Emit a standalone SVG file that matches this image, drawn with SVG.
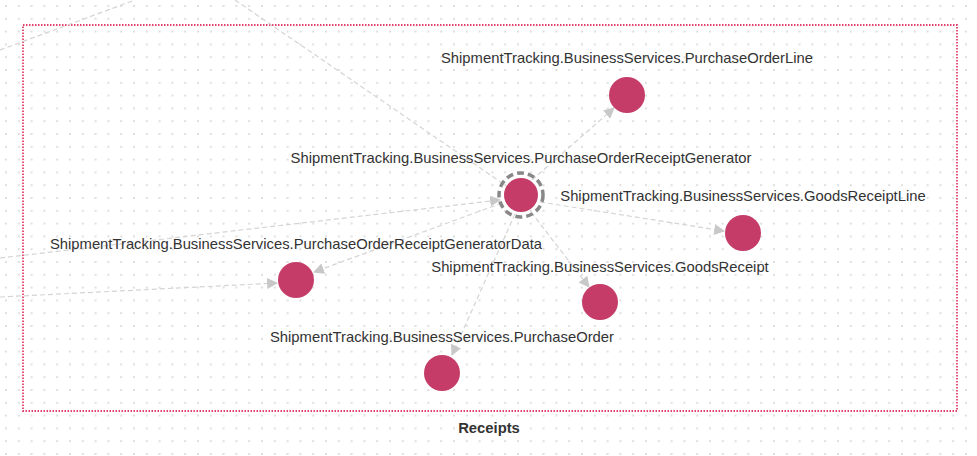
<svg xmlns="http://www.w3.org/2000/svg" width="977" height="456" viewBox="0 0 977 456">
<defs>
<pattern id="dots" width="12.8" height="12.8" patternUnits="userSpaceOnUse" x="5" y="5"><circle cx="1" cy="1" r="0.9" fill="#d0d0d0"/></pattern>
<marker id="ar" viewBox="0 0 10 10" refX="9" refY="5" markerWidth="11" markerHeight="11" markerUnits="userSpaceOnUse" orient="auto"><path d="M0,0 L10,5 L0,10 z" fill="#c8c8c8"/></marker>
</defs>
<style>
.e{stroke:#d4d4d4;stroke-width:1.2;stroke-dasharray:5 3;fill:none}
.n{fill:#c43c67}
.t{font-family:"Liberation Sans",Arial,sans-serif;font-size:14.8px;fill:#333}
</style>
<rect width="977" height="456" fill="#fff"/>
<rect width="977" height="456" fill="url(#dots)"/>
<rect x="23" y="25" width="934" height="386" fill="none" stroke="#e0406c" stroke-width="1.8" stroke-dasharray="1.5 1.5"/>
<text class="t" x="489" y="433" text-anchor="middle" font-weight="bold" font-size="13">Receipts</text>
<g id="connectors">
<path class="e" d="M0,50 L135,0"/>
<path class="e" d="M235,0 L505,185" stroke="#ececec"/>
<path class="e" d="M0,258 L500,200" marker-end="url(#ar)"/>
<path class="e" d="M0,297 L277,283" marker-end="url(#ar)"/>
<path class="e" d="M532,180 L614,108" marker-end="url(#ar)"/>
<path class="e" d="M540,202 L724,231" marker-end="url(#ar)"/>
<path class="e" d="M531,212 L589,287" marker-end="url(#ar)"/>
<path class="e" d="M515,214 L452,355" marker-end="url(#ar)"/>
<path class="e" d="M502,203 L314,272" marker-end="url(#ar)"/>
</g>
<g id="gen"><circle class="n" cx="521" cy="195" r="17"/><circle cx="521" cy="195" r="22" fill="none" stroke="#888" stroke-width="3.5" stroke-dasharray="7 4"/><text class="t" x="521" y="163" text-anchor="middle">ShipmentTracking.BusinessServices.PurchaseOrderReceiptGenerator</text></g>
<g id="poline"><circle class="n" cx="627" cy="95" r="18"/><text class="t" x="627" y="63" text-anchor="middle">ShipmentTracking.BusinessServices.PurchaseOrderLine</text></g>
<g id="grline"><circle class="n" cx="743" cy="233" r="18"/><text class="t" x="743" y="201" text-anchor="middle">ShipmentTracking.BusinessServices.GoodsReceiptLine</text></g>
<g id="gr"><circle class="n" cx="600" cy="302" r="18"/><text class="t" x="600" y="272" text-anchor="middle">ShipmentTracking.BusinessServices.GoodsReceipt</text></g>
<g id="po"><circle class="n" cx="442" cy="373" r="18"/><text class="t" x="442" y="342" text-anchor="middle">ShipmentTracking.BusinessServices.PurchaseOrder</text></g>
<g id="data"><circle class="n" cx="296" cy="280" r="18"/><text class="t" x="296" y="249" text-anchor="middle">ShipmentTracking.BusinessServices.PurchaseOrderReceiptGeneratorData</text></g>
</svg>
